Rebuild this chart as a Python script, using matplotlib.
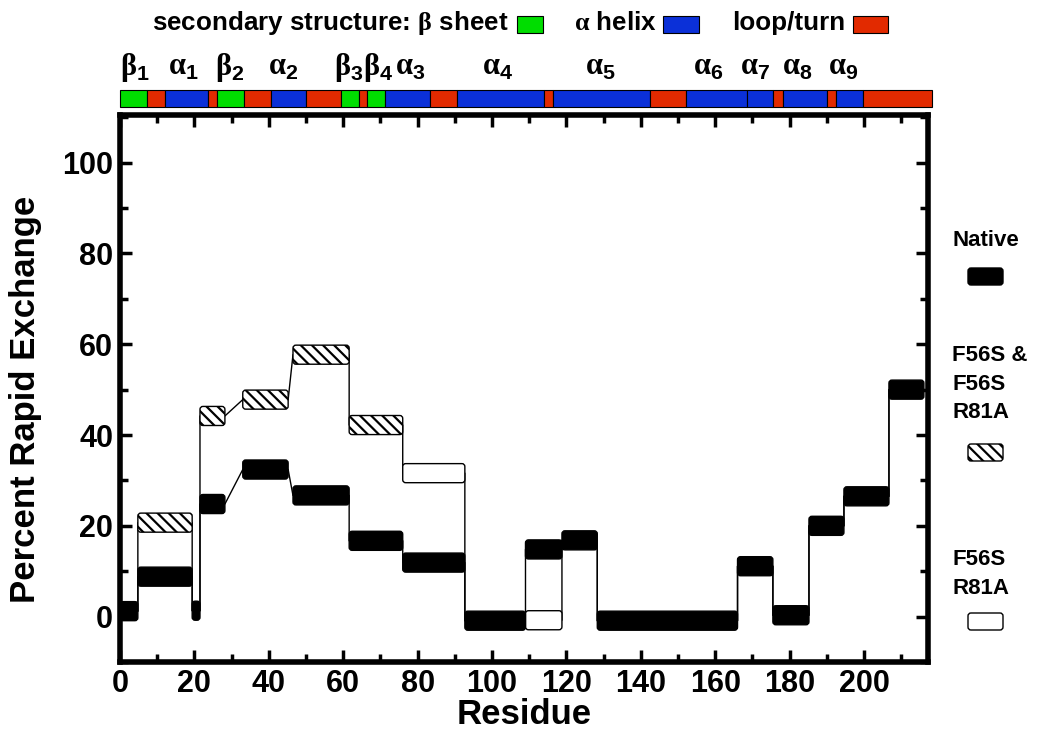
import matplotlib.pyplot as plt
from matplotlib.patches import FancyBboxPatch, Rectangle

plt.rcParams['font.family'] = ['Liberation Sans', 'DejaVu Sans']
plt.rcParams['font.weight'] = 'bold'
plt.rcParams['axes.labelweight'] = 'bold'
plt.rcParams['mathtext.fontset'] = 'custom'
plt.rcParams['mathtext.rm'] = 'Liberation Serif'
plt.rcParams['mathtext.sf'] = 'Liberation Sans:bold'
plt.rcParams['hatch.linewidth'] = 1.6

# segments along the sequence (residue ranges) and percent rapid exchange
seg_start = [0, 4.8, 19.4, 21.5, 33, 46.5, 61.6, 76, 92.7, 109, 118.8, 128.3, 166, 175.5, 185.2, 194.6, 206.7]
seg_end = [4.8, 19.4, 21.5, 28.2, 45.2, 61.6, 76, 92.7, 109, 118.8, 128.3, 166, 175.5, 185.2, 194.6, 206.7, 216.1]
native = [1.2, 8.8, 1.3, 24.8, 32.4, 26.7, 16.7, 11.9, -0.9, 14.8, 16.8, -0.9, 11.1, 0.3, 20, 26.5, 50]
mutant = [1.2, 20.7, 1.3, 44.2, 47.8, 57.7, 42.2, 31.6, -0.9, -0.8, 16.8, -0.9, 11.1, 0.3, 20, 26.5, 50]
# which mutant value differs: 'both' = F56S & F56S R81A, 'double' = F56S R81A only
mutant_kind = ['', 'both', '', 'both', 'both', 'both', 'both', 'double', '', 'double',
               '', '', '', '', '', '', '']

# secondary structure along the sequence
ss_bounds = [0, 7.2, 12.1, 23.7, 26.2, 33.4, 40.6, 49.9, 59.4, 64.2, 66.5, 71.2, 83.3,
             90.5, 114, 116.5, 142.5, 152.1, 168.6, 175.6, 178.3, 190, 192.5, 199.6, 218.3]
ss_type = ['E', 'L', 'H', 'L', 'E', 'L', 'H', 'L', 'E', 'L', 'E', 'H', 'L',
           'H', 'L', 'H', 'L', 'H', 'H', 'L', 'H', 'L', 'H', 'L']
ss_greek = ['beta', 'alpha', 'beta', 'alpha', 'beta', 'beta', 'alpha', 'alpha',
            'alpha', 'alpha', 'alpha', 'alpha', 'alpha']
ss_num = [1, 1, 2, 2, 3, 4, 3, 4, 5, 6, 7, 8, 9]
ss_label_x = [4, 17, 29.6, 43.8, 61.6, 69.4, 78, 101.6, 129, 158, 170.7, 182, 194.4]
ss_colors = {'E': '#00dd00', 'H': '#0b30d8', 'L': '#e22a00'}

bar_h = 4.2

fig = plt.figure(figsize=(10.42, 7.32), dpi=100)
W, H = 1042, 732
ax = fig.add_axes([120 / W, 70 / H, 808 / W, 547 / H])
ax.set_xlim(0, 217.2)
ax.set_ylim(-9.7, 110.5)


def seg_box(x0, x1, v, **kw):
    return FancyBboxPatch((x0, v - bar_h / 2), x1 - x0, bar_h,
                          boxstyle='round,pad=0,rounding_size=0.8',
                          mutation_aspect=0.82, **kw)


def step_path(vals):
    xs, ys = [], []
    for s, e, v in zip(seg_start, seg_end, vals):
        xs += [s, e]
        ys += [v, v]
    return xs, ys


mx, my = step_path(mutant)
ax.plot(mx, my, color='k', lw=1, zorder=1)
nx, ny = step_path(native)
ax.plot(nx, ny, color='k', lw=1, zorder=1)

for s, e, v, k in zip(seg_start, seg_end, mutant, mutant_kind):
    if k == 'both':
        ax.add_patch(seg_box(s, e, v, fc='white', ec='k', lw=1, hatch='\\\\\\', zorder=2))
    elif k == 'double':
        ax.add_patch(seg_box(s, e, v, fc='white', ec='k', lw=1, zorder=2))

for s, e, v in zip(seg_start, seg_end, native):
    ax.add_patch(seg_box(s, e, v, fc='black', ec='black', lw=1, zorder=3))

ax.set_xticks(range(0, 201, 20))
ax.set_xticks(range(10, 217, 10), minor=True)
ax.set_yticks(range(0, 101, 20))
ax.set_yticks(range(-10, 111, 10), minor=True)
ax.tick_params(which='both', direction='in', top=True, right=True, labelsize=22, pad=5)
ax.tick_params(which='major', length=8.5, width=2.5)
ax.tick_params(which='minor', length=6, width=2.5)
for sp in ax.spines.values():
    sp.set_linewidth(4)
ax.set_xlabel('Residue', fontsize=25, fontweight='bold', labelpad=-1)
ax.set_ylabel('Percent Rapid Exchange', fontsize=25, fontweight='bold')
ax.yaxis.set_label_coords(-0.097, 0.48)

# secondary structure strip
ax_ss = fig.add_axes([120 / W, 1 - 107 / H, 808 / W, 17 / H])
ax_ss.set_xlim(0, 217.2)
ax_ss.set_ylim(0, 1)
ax_ss.axis('off')
for i, t in enumerate(ss_type):
    ax_ss.add_patch(Rectangle((ss_bounds[i], 0), ss_bounds[i + 1] - ss_bounds[i], 1,
                              fc=ss_colors[t], ec='k', lw=0.8, clip_on=False))
for x, g, n in zip(ss_label_x, ss_greek, ss_num):
    lab = r'$\mathrm{\%s}_{\mathsf{%d}}$' % (g, n)
    ax_ss.text(x, 2.35, lab, ha='center', va='center', fontsize=22, fontweight='normal')

# header and legend (pixel coordinates of the figure)
pax = fig.add_axes([0, 0, 1, 1], zorder=-1)
pax.set_xlim(0, W)
pax.set_ylim(H, 0)
pax.axis('off')

pax.text(508, 23, r'secondary structure: $\mathrm{\beta}$ sheet', ha='right', va='center', fontsize=18.7)
pax.text(657, 23, r'$\mathrm{\alpha}$ helix', ha='right', va='center', fontsize=18.7)
pax.text(845, 23, 'loop/turn', ha='right', va='center', fontsize=18.7)
for x0, w, t in [(517, 26, 'E'), (663, 36, 'H'), (853, 35, 'L')]:
    pax.add_patch(Rectangle((x0, 16), w, 17, fc=ss_colors[t], ec='k', lw=0.8))

pax.text(952, 240, 'Native', ha='left', va='center', fontsize=16)
pax.text(952, 384, 'F56S &\nF56S\nR81A', ha='left', va='center', fontsize=16, linespacing=1.45)
pax.text(952, 574, 'F56S\nR81A', ha='left', va='center', fontsize=16, linespacing=1.45)
box = dict(boxstyle='round,pad=0,rounding_size=3')
pax.add_patch(FancyBboxPatch((968, 268), 35, 17, fc='black', ec='black', lw=1, **box))
pax.add_patch(FancyBboxPatch((968, 444), 35, 17, fc='white', ec='black', lw=1,
                             hatch='\\\\\\', **box))
pax.add_patch(FancyBboxPatch((968, 613), 35, 17, fc='white', ec='black', lw=1, **box))

fig.savefig('out.png', dpi=100)
